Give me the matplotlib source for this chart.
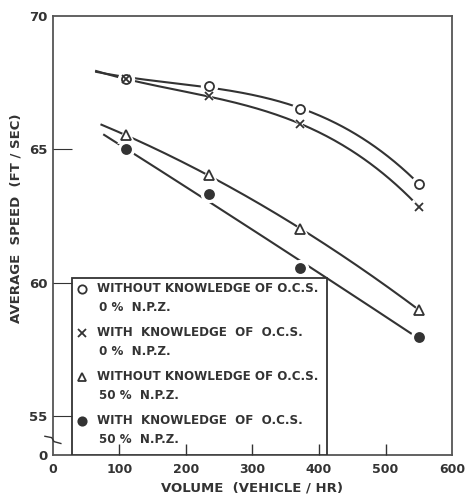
import numpy as np
import matplotlib.pyplot as plt
from matplotlib.patches import Rectangle
from matplotlib.lines import Line2D

# volumen de los puntos medidos (veh/hr)
volumen = [110, 235, 372, 550]

# velocidad media (ft/sec) por caso
sin_ocs_0 = [67.64, 67.36, 66.52, 63.71]
con_ocs_0 = [67.62, 66.98, 65.95, 62.85]
sin_ocs_50 = [65.52, 64.02, 62.02, 58.99]
con_ocs_50 = [65.00, 63.31, 60.56, 57.98]

# donde empieza cada curva trazada a mano (veh/hr, ft/sec) y su grado
inicio_x = [65, 65, 73, 77]
inicio_y = [67.94, 67.94, 65.92, 65.47]
grado = [3, 3, 2, 2]

etiquetas = [
    ("WITHOUT KNOWLEDGE OF O.C.S.", "0 %  N.P.Z."),
    ("WITH  KNOWLEDGE  OF  O.C.S.", "0 %  N.P.Z."),
    ("WITHOUT KNOWLEDGE OF O.C.S.", "50 %  N.P.Z."),
    ("WITH  KNOWLEDGE  OF  O.C.S.", "50 %  N.P.Z."),
]
marcadores = [
    dict(marker="o", mfc="white", ms=6.5),
    dict(marker="x", mfc="none", ms=6),
    dict(marker="^", mfc="white", ms=6.5),
    dict(marker="o", mfc="#333333", ms=6.5),
]

y_cero = 53.55
color = "#333333"
fuente = dict(family="DejaVu Sans", weight="bold", color=color)

fig = plt.figure(figsize=(4.68, 4.94), dpi=100)
ax = fig.add_axes([0.113, 0.079, 0.853, 0.889])

series = [sin_ocs_0, con_ocs_0, sin_ocs_50, con_ocs_50]
for valores, x0, y0, g, m in zip(series, inicio_x, inicio_y, grado, marcadores):
    coef = np.polyfit([x0] + volumen, [y0] + valores, g)
    xs = np.linspace(x0, volumen[-1], 200)
    ax.plot(xs, np.polyval(coef, xs), color=color, lw=1.5, zorder=2)
    # halo blanco para cortar la linea alrededor del simbolo
    ax.plot(volumen, valores, ls="none", marker=m["marker"], ms=m["ms"] + 4,
            mfc="white", mec="white", mew=2, zorder=3)
    ax.plot(volumen, valores, ls="none", marker=m["marker"], ms=m["ms"],
            mfc=m["mfc"], mec=color, mew=1.3, zorder=4)

ax.set_xlim(0, 600)
ax.set_ylim(y_cero, 70)
ax.set_xticks([0, 100, 200, 300, 400, 500, 600])
ax.set_xticklabels(["0", "100", "200", "300", "400", "500", "600"], **fuente, fontsize=9)
ax.set_yticks([y_cero, 55, 60, 65, 70])
ax.set_yticklabels(["0", "55", "60", "65", "70"], **fuente, fontsize=9.5)
ax.tick_params(axis="x", direction="in", length=8, width=1, colors=color, pad=6)
ax.tick_params(axis="y", direction="in", length=14, width=0.8, colors=color, pad=4)
ax.yaxis.get_major_ticks()[0].tick1line.set_visible(False)
ax.yaxis.get_major_ticks()[-1].tick1line.set_visible(False)
ax.xaxis.get_major_ticks()[0].tick1line.set_visible(False)
ax.xaxis.get_major_ticks()[-1].tick1line.set_visible(False)
ax.xaxis.set_zorder(8)
ax.yaxis.set_zorder(8)

for s in ax.spines.values():
    s.set_color("#555555")
    s.set_linewidth(1.3)

# marca de corte en el eje y
corte = ax.get_yaxis_transform()
ax.plot([-0.02, -0.003, 0.003, 0.02], [54.25, 54.2, 54.05, 53.98], color=color, lw=1,
        transform=corte, clip_on=False, zorder=9)

ax.set_xlabel("VOLUME  (VEHICLE / HR)", **fuente, fontsize=9.5, labelpad=4)
ax.set_ylabel("AVERAGE  SPEED  (FT / SEC)", **fuente, fontsize=9.5)
ax.yaxis.set_label_coords(-0.075, 0.54)

# leyenda dibujada a mano, como en el original
caja = Rectangle((0.048, 0.0), 0.639, 0.403, transform=ax.transAxes,
                 facecolor="white", edgecolor=color, lw=1.3, zorder=6)
ax.add_patch(caja)
y_linea = 0.378
for (l1, l2), m in zip(etiquetas, marcadores):
    ax.add_line(Line2D([0.074], [y_linea], transform=ax.transAxes, ls="none",
                       marker=m["marker"], ms=m["ms"] - 0.5, mfc=m["mfc"],
                       mec=color, mew=1.3, zorder=7))
    ax.text(0.110, y_linea, l1, transform=ax.transAxes, va="center",
            fontsize=8.6, zorder=7, **fuente)
    ax.text(0.115, y_linea - 0.043, l2, transform=ax.transAxes, va="center",
            fontsize=8.6, zorder=7, **fuente)
    y_linea -= 0.1

fig.savefig("out.png", dpi=100)
